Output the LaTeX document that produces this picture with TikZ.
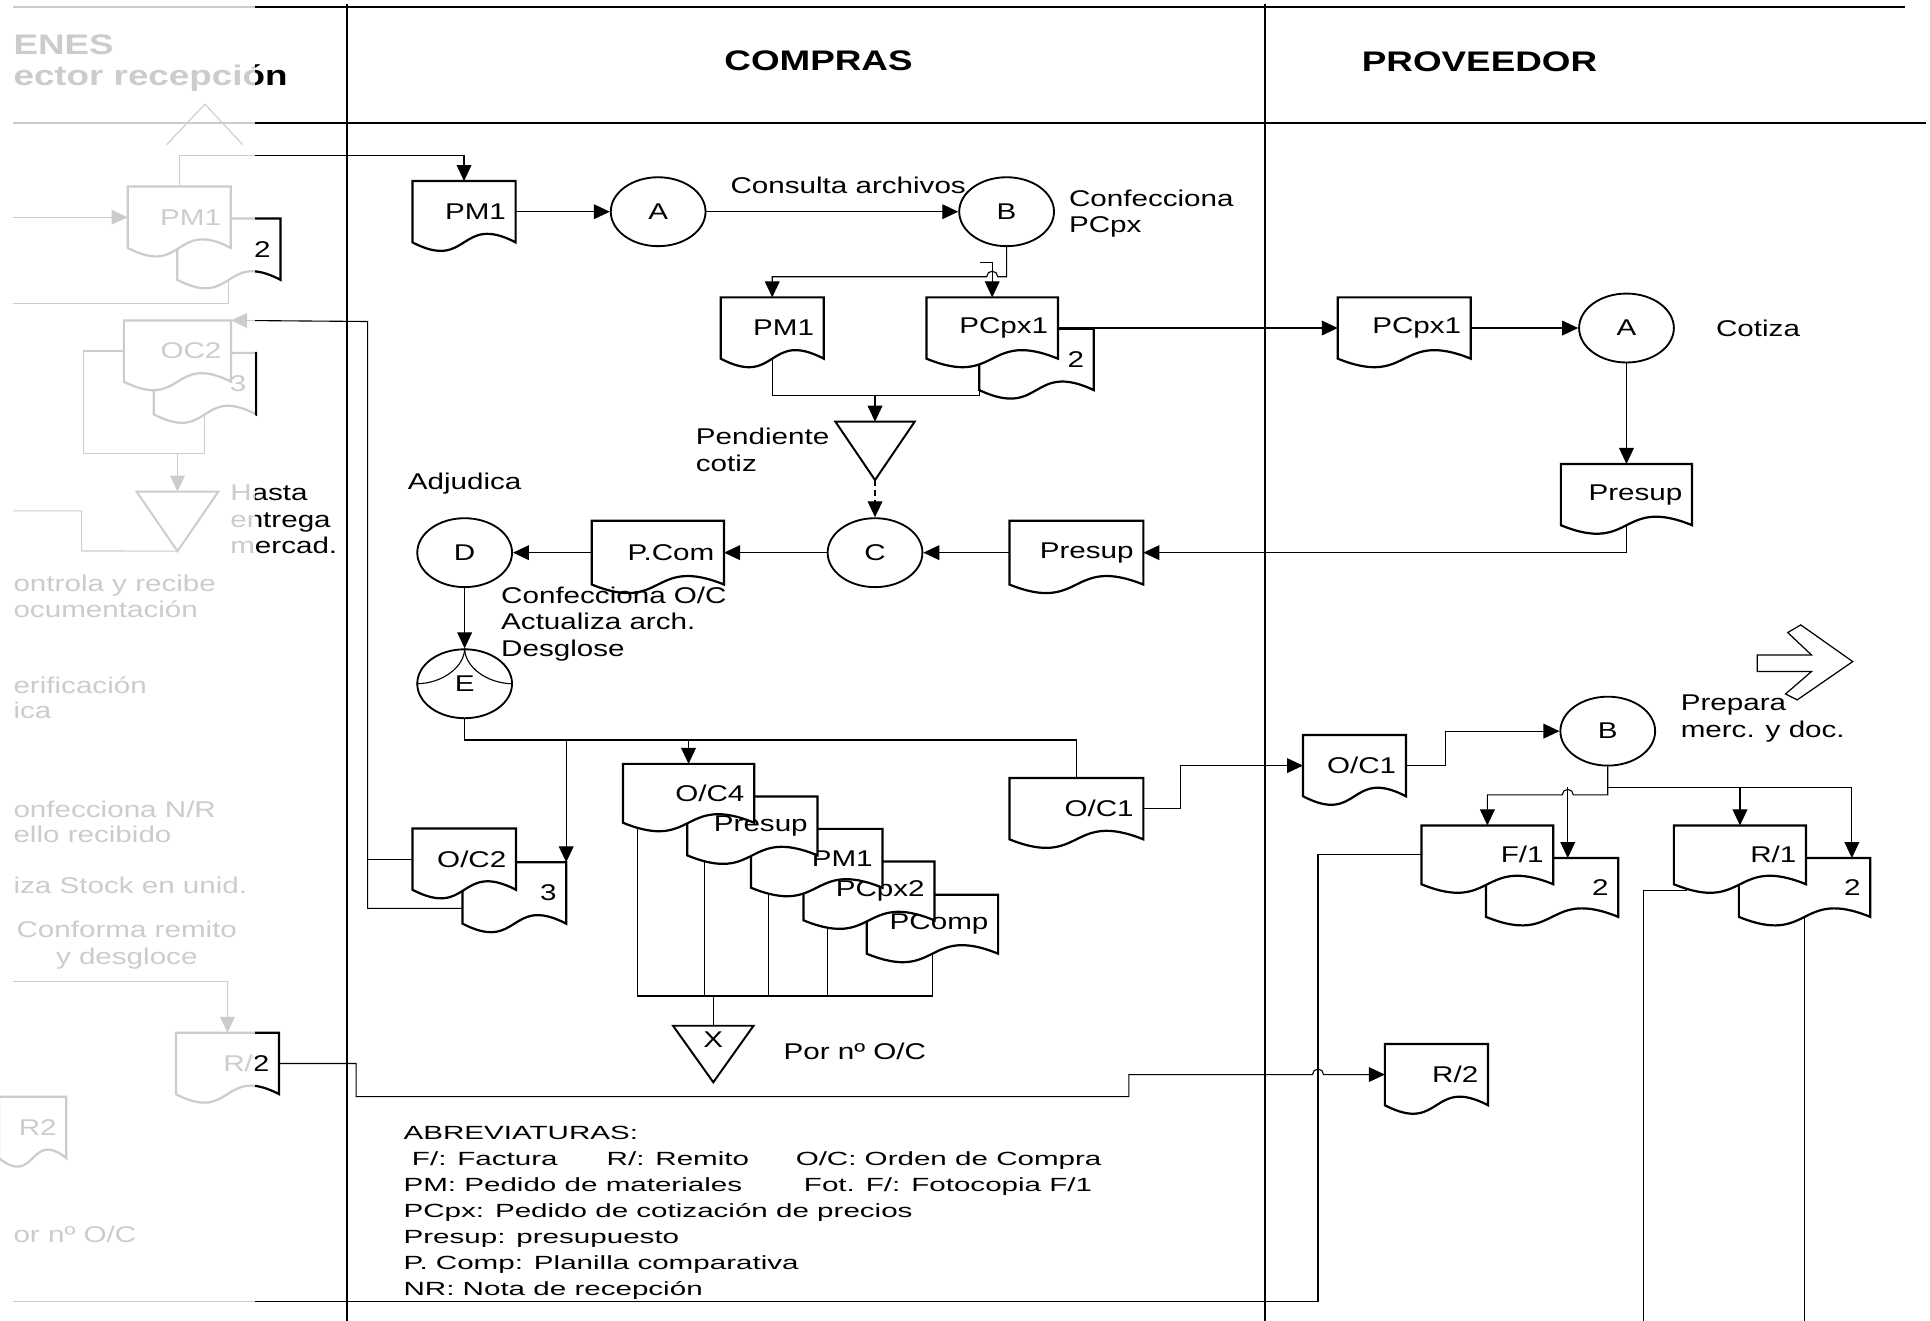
\documentclass[tikz,border=0pt]{standalone}
\usepackage{fontspec}
\setmainfont{Liberation Sans}[FakeStretch=1.3]
\newfontfamily\legendfont{Liberation Sans}[FakeStretch=1.55]
\usetikzlibrary{arrows.meta, shapes.geometric, calc}
\pgfdeclarelayer{bg}
\pgfsetlayers{bg,main}

% document symbol: flat top, wavy bottom
\makeatletter
\pgfdeclareshape{docshape}{%
  \inheritsavedanchors[from=rectangle]%
  \inheritanchorborder[from=rectangle]%
  \inheritanchor[from=rectangle]{center}%
  \inheritanchor[from=rectangle]{north}%
  \inheritanchor[from=rectangle]{south}%
  \inheritanchor[from=rectangle]{east}%
  \inheritanchor[from=rectangle]{west}%
  \inheritanchor[from=rectangle]{north east}%
  \inheritanchor[from=rectangle]{north west}%
  \inheritanchor[from=rectangle]{south east}%
  \inheritanchor[from=rectangle]{south west}%
  \inheritanchor[from=rectangle]{base}%
  \inheritanchor[from=rectangle]{mid}%
  \backgroundpath{%
    \southwest\edef\docxa{\the\pgf@x}\edef\docya{\the\pgf@y}%
    \northeast\edef\docxb{\the\pgf@x}\edef\docyb{\the\pgf@y}%
    \pgf@xc=\docxb\advance\pgf@xc by -\docxa\pgf@xc=0.55\pgf@xc
    \edef\docdx{\the\pgf@xc}%
    \pgfpathmoveto{\pgfqpoint{\docxa}{\docya}}%
    \pgfpathlineto{\pgfqpoint{\docxa}{\docyb}}%
    \pgfpathlineto{\pgfqpoint{\docxb}{\docyb}}%
    \pgfpathlineto{\pgfqpoint{\docxb}{\docya}}%
    \pgfpathcurveto{\pgfqpoint{\dimexpr\docxb-\docdx\relax}{\dimexpr\docya+24pt\relax}}%
      {\pgfqpoint{\dimexpr\docxa+\docdx\relax}{\dimexpr\docya-24pt\relax}}%
      {\pgfqpoint{\docxa}{\docya}}%
    \pgfpathclose
  }%
}
\makeatother

\begin{document}
\begin{tikzpicture}[x=1pt, y=-1pt,
    font=\fontsize{18.5}{21.5}\selectfont,
    doc/.style={shape=docshape, draw, line width=1.8pt, fill=white, inner xsep=7pt,
                inner ysep=0pt, minimum height=48pt, text width=#1, align=right},
    doc/.default=68pt,
    proc/.style={draw, ellipse, line width=1.5pt, fill=white, minimum width=77pt,
                 minimum height=56pt, inner sep=0pt},
    trif/.style={inner sep=0pt, minimum width=65pt, minimum height=47pt},
    tri/.style={line width=1.6pt},
    lane/.style={line width=2pt},
    con/.style={line width=0.9pt},
    hdr/.style={font=\fontsize{23}{27}\selectfont\bfseries},
    lbl/.style={align=left, inner sep=0pt},
    >={Triangle[length=13pt, width=12pt]}]
  \useasboundingbox (0,0) rectangle (1568,1073);

  % lanes
  \begin{pgfonlayer}{bg}
    \draw[lane] (10.8,5.6) -- (1548,5.6);
    \draw[lane] (10.8,100) -- (1565,100);
    \draw[lane] (281.9,3) -- (281.9,1073);
    \draw[lane] (1027.7,3) -- (1027.7,1073);
  \end{pgfonlayer}
  \node[hdr] (hcom) at (665,49.4) {COMPRAS};
  \node[hdr] (hprov) at (1202,50.5) {PROVEEDOR};
  \node[hdr, anchor=west, inner sep=0pt] (halm1) at (10.8,36.7) {ENES};
  \node[hdr, anchor=west, inner sep=0pt] (halm2) at (10.8,63.7) {ector recepción};

  % left lane (faded)
  \draw[con] (135.4,117.5) -- (166.5,84.6) -- (197.1,117.5);
  \node[doc] (pm1gb) at (185.9,202.4) {2};
  \node[doc] (pm1g) at (145.6,176.5) {PM1};
  \node[doc=67.3pt] (oc2gb) at (166.5,311.7) {3};
  \node[doc=71.3pt] (oc2g) at (144.2,285.2) {OC2};
  \node[trif, minimum width=66pt, minimum height=48pt] (ltri) at (144.2,423.6) {};
  \draw[tri] (ltri.north west) -- (ltri.north east) -- (ltri.south) -- cycle;
  \node[lbl, anchor=north west] (hasta) at (186.9,394) {Hasta\\entrega\\mercad.};
  \node[lbl, anchor=west] (g1) at (10.8,475.7) {ontrola y recibe};
  \node[lbl, anchor=west] (g2) at (10.8,494.9) {ocumentación};
  \node[lbl, anchor=west] (g3) at (10.8,556.5) {erificación};
  \node[lbl, anchor=west] (g4) at (10.8,577) {ica};
  \node[lbl, anchor=west] (g5) at (10.8,657.3) {onfecciona N/R};
  \node[lbl, anchor=west] (g6) at (10.8,677.9) {ello recibido};
  \node[lbl, anchor=west] (g7) at (10.8,719) {iza Stock en unid.};
  \node[align=center, inner sep=0pt] (g8) at (103,768) {Conforma remito\\y desgloce};
  \node[doc] (r2g) at (184.8,864) {R/2};
  \node[doc=39pt] (nr2) at (26.5,916) {R2};
  \node[lbl, anchor=west] (g9) at (10.8,1002.8) {or nº O/C};

  % compras
  \node[doc] (pm1a) at (377,172) {PM1};
  \node[proc] (A) at (534.7,172) {A};
  \node[proc] (B) at (817.8,172) {B};
  \node (consulta) at (689.1,150.3) {Consulta archivos};
  \node[lbl, anchor=north west] (confpc) at (868.3,154) {Confecciona\\PCpx};
  \node[doc] (pm1b) at (627.4,266.5) {PM1};
  \node[doc=77.3pt] (pcx1b) at (842.05,292) {2};
  \node[doc=91pt] (pcx1) at (806.1,266.5) {PCpx1};
  \node[trif, minimum width=64pt] (pend) at (710.9,366.3) {};
  \draw[tri] (pend.north west) -- (pend.north east) -- (pend.south) -- cycle;
  \node[lbl, anchor=north west] (pendtxt) at (565.2,347.7) {Pendiente\\cotiz};
  \node[lbl, anchor=west] (adj) at (331.2,392.7) {Adjudica};
  \node[proc] (C) at (710.9,449) {C};
  \node[doc=93pt, minimum height=50pt] (presa) at (874.5,449) {Presup};
  \node[doc=91.7pt, minimum height=50pt] (pcom) at (534.5,449) {P.Com};
  \node[proc] (D) at (377.5,449) {D};
  \node[lbl, anchor=north west] (confoc) at (407,476.4) {Confecciona O/C\\Actualiza arch.\\Desglose};
  \node[proc] (E) at (377.5,555.5) {E};
  \draw[con] (E.north) .. controls +(0,15) and +(21,0) .. (E.west);
  \draw[con] (E.north) .. controls +(0,15) and +(-21,0) .. (E.east);
  \node[doc=91pt, minimum height=46pt] (pcomp) at (757.5,750.9) {PComp};
  \node[doc=90.5pt, minimum height=46pt] (pcx2) at (706,723.8) {PCpx2};
  \node[doc=91pt, minimum height=46pt] (pm1s) at (663.5,697.3) {PM1};
  \node[doc=90pt, minimum height=46pt] (pres) at (611.2,671) {Presup};
  \node[doc=90.8pt, minimum height=46pt] (oc4) at (559.4,644.5) {O/C4};
  \node[doc=68.4pt] (oc2b) at (417.9,725.5) {3};
  \node[doc=68.3pt] (oc2) at (377.2,698) {O/C2};
  \node[doc=93pt] (oc1) at (874.5,657) {O/C1};
  \node[trif, minimum height=45.5pt] (X) at (579.5,856.3) {};
  \draw[tri] (X.north west) -- (X.north east) -- (X.south) -- cycle;
  \node (xl) at (579.5,845) {X};
  \node[lbl, anchor=west] (porx) at (636.4,854.4) {Por nº O/C};
  \node[lbl, anchor=north west, font=\legendfont\fontsize{15.5}{21.13}\selectfont] (abrev)
    at (327.7,915) {ABREVIATURAS:\\
    \hspace*{6.8pt}\makebox[158.2pt][l]{F/: Factura}\makebox[153.6pt][l]{R/: Remito}O/C: Orden de Compra\\
    \makebox[325.3pt][l]{PM: Pedido de materiales}Fot. F/: Fotocopia F/1\\
    PCpx: Pedido de cotización de precios\\
    Presup: presupuesto\\
    P. Comp: Planilla comparativa\\
    NR: Nota de recepción};

  % proveedor
  \node[doc=92.3pt] (pcx1p) at (1140.9,266.5) {PCpx1};
  \node[proc] (Ap) at (1321.4,266.5) {A};
  \node[lbl, anchor=west] (cotiza) at (1394,266.7) {Cotiza};
  \node[doc=90.8pt] (presp) at (1321.4,401.8) {Presup};
  \node[doc=67.8pt] (oc1p) at (1100.4,622) {O/C1};
  \node[proc] (Bp) at (1306.2,594) {B};
  \node[lbl, anchor=north west] (prep) at (1365.3,564.4) {Prepara\\merc. y doc.};
  \draw[line width=1pt] (1427.7,532.1) -- (1471.7,532.1) -- (1452.4,513.9) -- (1463,507.7)
    -- (1505.2,537.5) -- (1460.1,568.6) -- (1450.6,563.8) -- (1471.7,545.6) -- (1427.7,545.6) -- cycle;
  \node[doc=91.7pt, minimum height=46pt] (f1b) at (1261,721) {2};
  \node[doc=91.3pt, minimum height=46pt] (f1) at (1208.4,694.5) {F/1};
  \node[doc=91pt, minimum height=46pt] (r1b) at (1466.1,721) {2};
  \node[doc=91.6pt, minimum height=46pt] (r1) at (1413.6,694.5) {R/1};
  \node[doc] (r2p) at (1167,873) {R/2};

  % connectors
  \begin{pgfonlayer}{bg}
    \coordinate (lnk) at (298.7,261.2);
    \coordinate (hook) at (796.4,213.4);
    \coordinate (jn) at (710.9,321);
    \coordinate (ebus) at (377.5,601.2);
    \coordinate (sbus) at (579.5,809.2);
    \coordinate (bbus) at (1306.2,639.6);
    \coordinate (fup) at (1273.7,639.6);
    \coordinate (rup) at (1504.5,639.6);
    \draw[con,->] (pm1g.north) -- ++(0,-25.2) -| (pm1a.north);
    \draw[con,->] (pm1g.west -| 10.8,0) -- (pm1g.west);
    \draw[con] (pm1gb.south) |- (10.8,246.5);
    \draw[con] (oc2g.west) -| (67.7,368.4) -| (oc2gb.south);
    \draw[con,->] (ltri.north |- 0,368.4) -- (ltri.north);
    \draw[con] (10.8,415) -| (66.3,447.6) -- (ltri.south);
    \draw[con,->] (10.8,797.4) -| (r2g.north);
    \draw[con] (f1.west) -| (1070.8,1057.5) -- (10.8,1057.5);
    \draw[con,->] ($(oc2b.west)!0.5!(oc2b.south west)$) -| (lnk) -- (oc2g.north east);
    \draw[con] (oc2.west) -- (oc2.west -| lnk);
    \draw[con,->] (pm1a) -- (A);
    \draw[con,->] (A) -- (B);
    \draw[con,->] (B.south) |- (810.6,224.8) arc[start angle=0, end angle=180, radius=4.5pt] -| (pm1b.north);
    \draw[con,->] (hook) -| (pcx1.north);
    \draw[con] (pm1b.south) |- (jn);
    \draw[con,->] (pcx1b.south west) |- (jn) -- (pend.north);
    \draw[con,->, dash pattern=on 5pt off 3pt] (pend.south) -- (C);
    \draw[con,->] (pcx1) -- (pcx1p);
    \draw[con,->] (pcx1p) -- (Ap);
    \draw[con,->] (Ap) -- (presp);
    \draw[con,->] (presp.south) |- (presa.east);
    \draw[con,->] (presa) -- (C);
    \draw[con,->] (C) -- (pcom);
    \draw[con,->] (pcom) -- (D);
    \draw[con,->] (D) -- (E);
    \draw[con] (E.south) -- (ebus) -| (oc1.north);
    \draw[con,->] (oc2b.north east |- ebus) -- (oc2b.north east);
    \draw[con,->] (oc4.north |- ebus) -- (oc4.north);
    \draw[con] ([xshift=11.6pt]oc4.south west) |- (pcomp.south |- sbus) -- (pcomp.south);
    \draw[con] ([xshift=13.7pt]pres.south west) |- (sbus);
    \draw[con] ([xshift=14.5pt]pm1s.south west) |- (sbus);
    \draw[con] ([xshift=19.2pt]pcx2.south west) |- (sbus);
    \draw[con] (sbus) -- (X.north);
    \draw[con,->] (oc1.east) -- ++(30,0) |- (oc1p.west);
    \draw[con,->] (oc1p.east) -- ++(32,0) |- (Bp.west);
    \draw[con,->] (Bp.south) |- (1278.2,645.8) arc[start angle=0, end angle=180, radius=4.5pt] -| (f1.north);
    \draw[con,->] (Bp.south) -- (bbus) -- (rup) -- (rup |- r1b.north);
    \draw[con,->] (r1.north |- bbus) -- (r1.north);
    \draw[con,->] (fup) -- (fup |- f1b.north);
    \draw[con] ([xshift=10.5pt]r1.south west) |- (1335,723.5) -- (1335,1073);
    \draw[con] (r1b.south) -- (r1b.south |- 0,1073);
    \draw[con,->] (r2g.east) -| (289.3,890.9) -| (917.1,873) -- (1066.3,873)
      arc[start angle=180, end angle=0, radius=4.5pt] -- (r2p.west);
  \end{pgfonlayer}

  % fade of the cut lane on the left
  \fill[white, opacity=0.8] (0,0) rectangle (207,1073);
\end{tikzpicture}
\end{document}
